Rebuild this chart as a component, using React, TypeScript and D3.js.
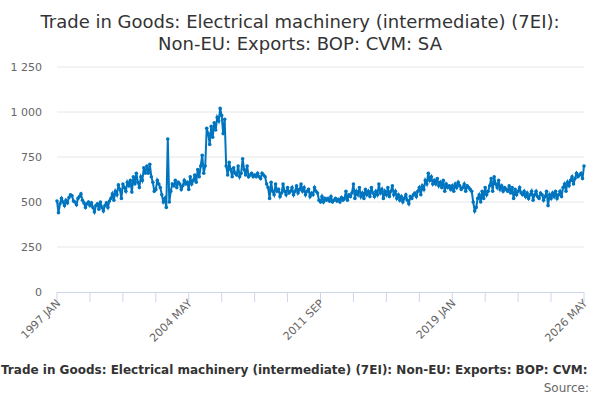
import React, { FC, useMemo } from "react";
import * as d3 from "d3";

// monthly values, 1997 JAN .. 2026 MAY (one row per year)
const values: number[] = [
  505, 440, 490, 520, 500, 480, 510, 495, 525, 540, 535, 505,
  500, 485, 520, 530, 545, 510, 495, 470, 490, 500, 480, 495,
  470, 445, 480, 490, 460, 500, 470, 450, 480, 495, 470, 505,
  520, 545, 510, 560, 540, 595, 570, 520, 600, 580, 560, 610,
  590, 620, 555, 640, 600, 660, 610, 580, 640, 620, 690, 660,
  700, 660, 710, 640, 610, 560, 570, 620, 600, 580, 540, 500,
  520, 470, 850, 500, 560, 600, 590, 620, 580, 610, 600, 570,
  590, 620, 600, 610, 570, 640, 600, 620, 650, 610, 680, 640,
  700, 760, 660, 700, 910, 880, 820, 920, 860, 940, 900, 970,
  950, 1020, 980, 880, 960, 700, 650, 720, 680, 640, 690, 660,
  650, 700, 640, 660, 740, 680, 650, 700, 640, 650, 660, 640,
  650, 640, 660, 640, 630, 660, 650, 640, 600, 580, 520, 610,
  560, 540, 600, 560, 570, 530, 550, 600, 560, 540, 580, 550,
  560, 580, 540, 560, 590, 550, 570, 600, 560, 580, 540, 560,
  570, 530, 550, 540, 580, 560, 550, 510, 500, 530, 500, 520,
  510, 520, 505, 530, 500, 510, 520, 505, 515, 500, 525, 510,
  520, 560, 510, 540, 530, 550, 600, 520, 560, 540, 580, 530,
  550, 520, 570, 540, 560, 530, 580, 550, 530, 560, 540, 600,
  550, 570, 520, 560, 540, 580, 530, 560, 590, 540, 560, 520,
  540, 510, 530, 500, 520, 540, 510, 490, 530, 520, 540, 550,
  530, 560, 580, 540, 590, 570, 620, 600, 660, 620, 640, 600,
  620, 600, 630, 590, 610, 580, 620, 560, 600, 580, 590, 570,
  590, 560, 600, 580, 610, 590, 570, 580, 600, 560, 590, 580,
  570, 560, 500, 450, 470, 520, 540, 500, 560, 520, 580, 540,
  560, 590, 630, 560, 640, 600, 580, 620, 570, 590, 560, 580,
  570, 560, 590, 550, 580, 520, 570, 540, 560, 580, 550, 540,
  560, 530, 550, 520, 540, 560, 510, 540, 560, 530, 520, 550,
  540, 510, 530, 560, 480, 540, 520, 550, 530, 560, 520, 540,
  560, 530, 580, 600, 560, 610, 590, 620, 640, 600, 630, 660,
  640, 650, 660, 630, 700,
];

const monthNames = ["JAN", "FEB", "MAR", "APR", "MAY", "JUN", "JUL", "AUG", "SEP", "OCT", "NOV", "DEC"];
const startYear = 1997;
const yTicks = [0, 250, 500, 750, 1000, 1250];
const font = "'DejaVu Sans', sans-serif";
const color = "#0075bf";

const label = (i: number) => `${startYear + Math.floor(i / 12)} ${monthNames[i % 12]}`;
const fmt = (v: number) => (v >= 1000 ? `${Math.floor(v / 1000)} ${String(v % 1000).padStart(3, "0")}` : `${v}`);

const App: FC = () => {
  const x = useMemo(() => d3.scaleLinear([0, values.length - 1], [57, 584]), []);
  const y = useMemo(() => d3.scaleLinear([0, 1250], [292, 67]), []);
  const line = useMemo(
    () => d3.line<number>().x((_d, i) => x(i)).y((d) => y(d)),
    [x, y]
  );
  const minor = d3.range(0, values.length, 22);
  const major = d3.range(0, values.length, 88);

  return (
    <svg width={600} height={400} style={{ position: "absolute", top: 0, left: 0 }} fontFamily={font}>
      <rect width={600} height={400} fill="#fff" />
      <text x={300} y={28} textAnchor="middle" fontSize={18} fill="#333">
        Trade in Goods: Electrical machinery (intermediate) (7EI):
      </text>
      <text x={300} y={50} textAnchor="middle" fontSize={18} fill="#333">
        Non-EU: Exports: BOP: CVM: SA
      </text>
      {yTicks.map((t) => (
        <g key={t}>
          {t > 0 && <line x1={57} x2={584} y1={y(t)} y2={y(t)} stroke="#e6e6e6" />}
          <text x={42} y={y(t) + 4} textAnchor="end" fontSize={11} fill="#666">
            {fmt(t)}
          </text>
        </g>
      ))}
      <line x1={57} x2={584} y1={292.5} y2={292.5} stroke="#ccd6eb" />
      {minor.map((i) => (
        <line key={i} x1={x(i)} x2={x(i)} y1={292} y2={302} stroke="#ccd6eb" />
      ))}
      {major.map((i) => (
        <text
          key={i}
          fontSize={11}
          fill="#666"
          textAnchor="end"
          transform={`translate(${x(i) + 4},${304}) rotate(-45)`}
        >
          {label(i)}
        </text>
      ))}
      <path d={line(values) || ""} fill="none" stroke={color} strokeWidth={2} />
      {values.map((v, i) => (
        <circle key={i} cx={x(i)} cy={y(v)} r={1.8} fill={color} />
      ))}
      <text x={1} y={374} textAnchor="start" fontSize={12} fontWeight="bold" fill="#333">
        Trade in Goods: Electrical machinery (intermediate) (7EI): Non-EU: Exports: BOP: CVM:
      </text>
      <text x={589} y={392} textAnchor="end" fontSize={12} fill="#666">
        Source:
      </text>
    </svg>
  );
};

export default App;
